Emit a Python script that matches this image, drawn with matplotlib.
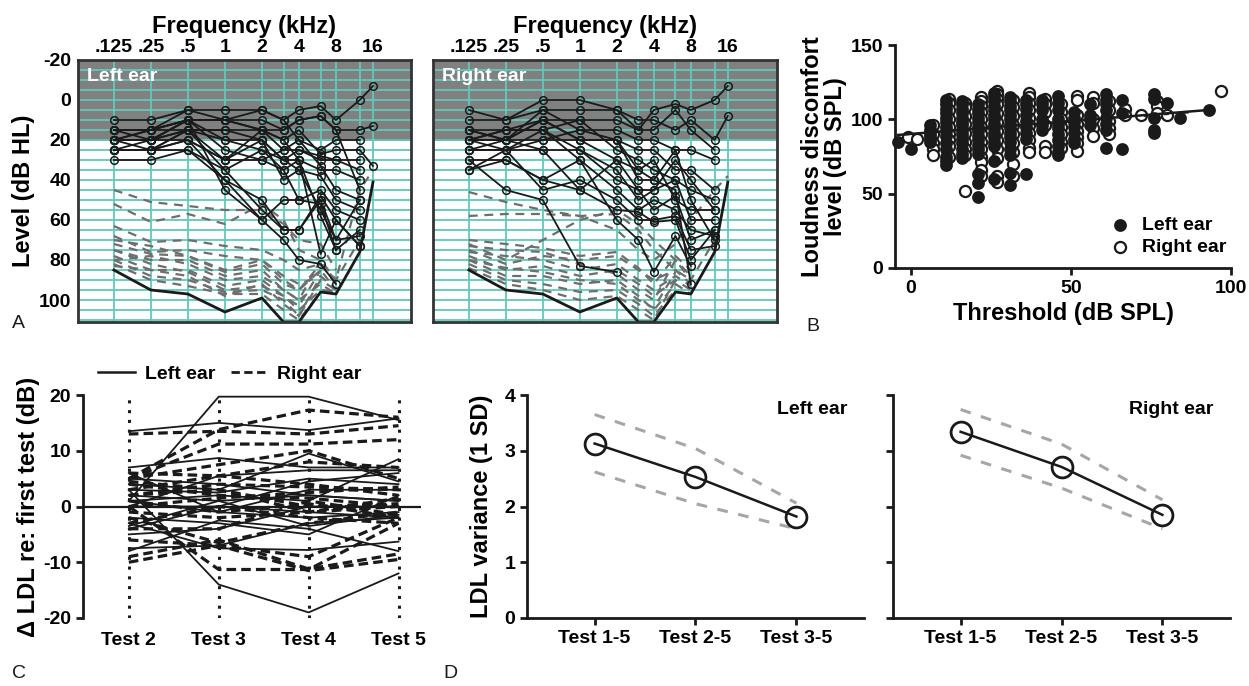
import numpy as np
import matplotlib
matplotlib.use("Agg")
import matplotlib.pyplot as plt
from matplotlib.lines import Line2D

plt.rcParams['font.family'] = ['Liberation Sans', 'DejaVu Sans']
plt.rcParams['font.weight'] = 'bold'
plt.rcParams['axes.labelweight'] = 'bold'
plt.rcParams['axes.unicode_minus'] = False

# ---------------- DATA ----------------
freqs_khz = [0.125, 0.25, 0.5, 1, 2, 3, 4, 6, 8, 12.5, 16]
freq_ticks = [0.125, 0.25, 0.5, 1, 2, 4, 8, 16]
freq_ticklabels = ['.125', '.25', '.5', '1', '2', '4', '8', '16']
level_ticks = [-20, 0, 20, 40, 60, 80, 100]

# maximum output of equipment (dB HL)
max_output = [85, 95, 97, 106, 99, 111, 111, 96, 97, 76, 41]

nan = np.nan
left_thresholds = [
    [10, 10, 5, 5, 5, 10, 5, 3, 10, 0, -7],
    [15, 15, 10, 10, 10, 15, 10, 8, 15, 15, 13],
    [20, 15, 10, 10, 15, 20, 15, 27, 25, 25, 33],
    [20, 20, 15, 15, 15, 25, 25, 30, 30, 30],
    [25, 25, 15, 20, 20, 30, 30, 35, 35, 40],
    [15, 15, 5, 10, 5, 10, 20, 25, 20, 20],
    [20, 20, 10, 25, 30, 25, 20, 33, 45, 50],
    [25, 25, 20, 30, 20, 30, 35, 38, 50, 55],
    [30, 30, 25, 35, 25, 35, 50, 45, 55, 60],
    [20, 20, 20, 40, 50, 65, 65, 50, 70, 68],
    [15, 20, 10, 45, 60, 70, 80, 82, 92],
    [25, 25, 15, 35, 55, 65, 65, 48, 60, 73],
    [20, 25, 25, 40, 60, 50, 50, 52, 75],
    [15, 15, 15, 30, 15, 15, 10, 8, 15, 45],
    [25, 20, 10, 20, 25, 30, 25, 28, 30, 35],
    [20, 20, 15, 15, 20, 40, 35, 55, 70, 50],
    [25, 25, 20, 30, 30, 35, 30, 58, 75, 65],
    [20, 15, 10, 10, 15, 20, 30, 77, 60, 73],
]
left_ldl_lines = [
    [45, 51, 53, 55, 55, 62, 70, 72, 85],
    [52, 61, 57, 62, 52, 60, 75, 80, 90, 70],
    [63, 71, 70, 73, 75, 80, 85, 82, 92],
    [68, 76, 75, 78, 80, 88, 92, 88, 95],
    [72, 77, 78, 86, 82, 92, 95, 85, 95],
    [75, 80, 80, 88, 85, 95, 100, 92, 97],
    [78, 85, 85, 93, 90, 98, 105, 95, 96],
    [80, 88, 90, 96, 95, 100, 108, 90, 95],
    [82, 90, 93, 97, 97, 105, 110, 96],
    [83, 85, 88, 98, 92, 102, 108, 88],
    [80, 78, 82, 90, 88, 95, 100, 80],
    [75, 82, 86, 95, 93, 98, 103, 85],
    [70, 73, 78, 85, 80, 90, 95, 82, 90, 45, 35],
]
right_thresholds = [
    [5, 10, 5, 5, 5, 15, 5, 2, 5, 0, -7],
    [10, 10, 0, 0, 5, 10, 10, 15, 10, 20, 8],
    [15, 15, 10, 10, 10, 15, 15, 5, 15, 25],
    [15, 20, 5, 15, 15, 20, 20, 25, 25, 30],
    [20, 20, 10, 20, 20, 25, 25, 35, 35, 45],
    [20, 15, 15, 10, 25, 30, 35, 40, 45, 50],
    [25, 25, 20, 20, 30, 35, 30, 50, 55, 55],
    [25, 20, 25, 25, 40, 45, 45, 40, 60, 60],
    [30, 30, 40, 30, 45, 55, 50, 55, 65, 68],
    [35, 25, 45, 40, 50, 60, 60, 58, 75, 73],
    [20, 25, 15, 30, 60, 70, 86, 68, 83],
    [30, 45, 50, 83, 86],
    [20, 15, 15, 25, 35, 50, 45, 30, 40, 55],
    [15, 20, 20, 15, 20, 40, 40, 45, 92],
    [25, 25, 25, 45, 30, 45, 55, 48, 70, 65],
    [20, 20, 10, 20, 20, 35, 40, 25, 50, 70],
    [35, 30, 40, 45, 55, 56, 61, 60, 80, 65],
]
right_ldl_lines = [
    [46, 51, 55, 58, 65, 75, 80, 72, 60, 45, 38],
    [58, 57, 57, 58, 57, 65, 75, 85, 90],
    [72, 80, 70, 60, 55, 62, 70, 80, 88],
    [75, 82, 78, 80, 78, 85, 90, 85, 92],
    [78, 85, 83, 88, 85, 92, 98, 90, 95],
    [80, 88, 88, 92, 90, 98, 105, 92, 97],
    [82, 90, 92, 96, 95, 102, 108, 95],
    [76, 78, 80, 85, 82, 90, 95, 88, 93],
    [84, 92, 95, 100, 98, 105, 110, 90],
    [73, 75, 76, 82, 87, 95, 100, 80, 90, 70],
    [80, 84, 86, 90, 92, 100, 104, 86],
    [70, 72, 74, 78, 76, 84, 92, 78, 85],
]

# Panel B: threshold (dB SPL) columns and LDL values (dB SPL)
left_scatter = [
    (-4, [85]), (0, [80]),
    (6, [96, 93, 91, 89, 87, 85]),
    (11, [113, 110, 107, 104, 101, 98, 95, 92, 89, 84, 80, 75, 72, 69]),
    (16, [112, 110, 107, 104, 101, 98, 96, 93, 90, 87, 84, 80, 77, 74]),
    (21, [110, 107, 104, 101, 98, 95, 92, 89, 86, 83, 80, 77, 63, 57, 48]),
    (26, [118, 115, 112, 109, 106, 103, 100, 97, 94, 91, 88, 85, 82, 72, 60]),
    (31, [115, 112, 109, 106, 103, 100, 97, 94, 91, 88, 85, 80, 76, 64, 56]),
    (36, [113, 110, 107, 103, 99, 95, 91, 87, 63]),
    (41, [113, 110, 106, 100, 96, 93]),
    (46, [116, 111, 106, 100, 97, 94, 90, 86, 82, 78, 76]),
    (51, [105, 101, 98, 95, 91, 87, 84]),
    (56, [110, 103, 100, 96]),
    (61, [117, 113, 110, 106, 101, 97, 93, 81]),
    (66, [113, 104, 80]),
    (76, [117, 114, 101, 93, 91]),
    (80, [111]), (84, [101]), (93, [106]),
]
right_scatter = [
    (-1, [88]), (2, [87]),
    (7, [96, 90, 84, 80, 76]),
    (12, [114, 111, 106, 100, 95, 90, 86, 82, 75]),
    (17, [111, 108, 102, 97, 91, 85, 80, 76, 52]),
    (22, [115, 112, 109, 105, 100, 95, 90, 85, 80, 75, 71, 66, 62]),
    (27, [119, 117, 114, 110, 104, 98, 92, 86, 80, 74, 62, 58]),
    (32, [113, 108, 102, 96, 90, 84, 78, 70, 62]),
    (37, [118, 115, 111, 106, 101, 96, 91, 86, 81, 78]),
    (42, [114, 110, 105, 96, 82, 78]),
    (47, [110, 105, 100, 95, 90, 85, 81]),
    (52, [116, 113, 103, 97, 92, 88, 84, 79]),
    (57, [115, 111, 100, 94, 89]),
    (62, [112, 106, 99, 94, 90]),
    (67, [107, 103]), (72, [103]),
    (77, [112, 109, 104]), (80, [103]), (97, [119]),
]
fit_left_x, fit_left_y = [-4, 93], [89.5, 106.3]
fit_right_x, fit_right_y = [-2, 97], [90.0, 106.5]

# Panel C: change in LDL re first test
tests_c = ['Test 2', 'Test 3', 'Test 4', 'Test 5']
c_left = [
    [13.5, 15, 13.7, 15.8], [1, 19.7, 19.7, 15.5], [3, -14, -19, -12],
    [7, 8.7, 7, 7], [4, 3, 9.5, 4.5], [-3, -7.5, -7.8, -6.3],
    [-8, -2.5, -4, -8], [1, 2, 1, 8.5], [0, 5.5, 6.5, 6.5],
    [-4, 0, 4.5, 6], [2, 1, 2, 1], [-5, -4, 0, 0], [6, -1, -2, -1],
    [-2, -3, -5, 2], [3, 2.5, 5, 4], [0, 0, -1, -2], [5, 4, 2, 1],
    [-7.5, -7, -3, -2], [1, -1, 3, 3], [-3.5, 1, -3.5, -1.5],
]
c_right = [
    [13, 13.5, 13, 14.5], [5, 13.8, 17.3, 16], [5, 11.2, 11.2, 12],
    [-10, -7, -11.5, -9.5], [-9, -6, -11.2, -8.5], [0, -11.3, -11.3, -3],
    [5, 7.5, 10, 5], [3, 5.5, 8, 7], [-6, -7, -9, -2], [2, 4, 3.5, 3],
    [-1, -2, -1, 1.5], [4, 2, 1.5, 0], [-2, -6.5, -3, -1], [6, 5.5, 4, 2],
    [0, 1.5, 2.5, 3.5], [-3, 0, -2, -3], [1, -1, 0.5, -2], [4.5, 3, 0, 0.5],
    [-4, -4, 1, -1.5], [2, 3, -1, 0],
]

# Panel D: LDL variance
tests_d = ['Test 1-5', 'Test 2-5', 'Test 3-5']
d_left_mean = [3.13, 2.53, 1.82]
d_left_upper = [3.65, 3.04, 2.06]
d_left_lower = [2.62, 2.05, 1.60]
d_right_mean = [3.34, 2.71, 1.85]
d_right_upper = [3.74, 3.12, 2.12]
d_right_lower = [2.92, 2.33, 1.60]

# ---------------- FIGURE ----------------
W, H = 1249, 686
fig = plt.figure(figsize=(W / 100, H / 100), dpi=100)


def px_axes(x0, y0, x1, y1):
    return fig.add_axes([x0 / W, 1 - y1 / H, (x1 - x0) / W, (y1 - y0) / H])


TEAL = '#62c9b8'
LBL = 17
TCK = 14


def pad(row):
    r = list(row) + [nan] * (len(freqs_khz) - len(row))
    return np.array(r, dtype=float)


def audiogram(ax, thr, ldl, title, xmax, show_y):
    ax.set_xscale('log', base=2)
    ax.set_xlim(0.0639, xmax)
    ax.set_ylim(111, -20)
    ax.axhspan(-25, 20.6, color='#808080', zorder=0, lw=0)
    for lv in range(-20, 111, 5):
        ax.axhline(lv, color=TEAL, lw=1.3, zorder=1)
    for f in freqs_khz:
        ax.axvline(f, color=TEAL, lw=1.3, zorder=1)
    for row in ldl:
        ax.plot(freqs_khz, pad(row), color='#6e6e6e', lw=1.6,
                dashes=(4, 3), zorder=2)
    ax.plot(freqs_khz, max_output, color='#1a1a1a', lw=2.0, zorder=3)
    for row in thr:
        ax.plot(freqs_khz, pad(row), color='#1a1a1a', lw=1.3, marker='o',
                ms=5.5, mfc='none', mec='#1a1a1a', mew=1.1, zorder=4)
    ax.xaxis.tick_top()
    ax.xaxis.set_label_position('top')
    ax.set_xticks(freq_ticks)
    ax.set_xticklabels(freq_ticklabels)
    ax.xaxis.set_minor_locator(matplotlib.ticker.NullLocator())
    ax.tick_params(axis='x', length=0, labelsize=TCK, pad=3)
    ax.set_xlabel('Frequency (kHz)', fontsize=LBL, labelpad=4)
    ax.set_yticks(level_ticks)
    ax.tick_params(axis='y', length=0, labelsize=TCK, pad=5)
    if show_y:
        ax.set_ylabel('Level (dB HL)', fontsize=LBL, labelpad=3)
    else:
        ax.set_yticklabels([])
    for s in ax.spines.values():
        s.set_color('#333333')
        s.set_linewidth(2)
        s.set_zorder(6)
    ax.text(0.027, 0.937, title, transform=ax.transAxes, color='white',
            fontsize=TCK, fontweight='bold', ha='left', va='center', zorder=7)


axA1 = px_axes(78, 60, 411, 322)
audiogram(axA1, left_thresholds, left_ldl_lines, 'Left ear', 32.6, True)
axA2 = px_axes(433, 60, 777, 322)
audiogram(axA2, right_thresholds, right_ldl_lines, 'Right ear', 40.2, False)


def style_spines(ax):
    for s in ['top', 'right']:
        ax.spines[s].set_visible(False)
    for s in ['left', 'bottom']:
        ax.spines[s].set_linewidth(2)
        ax.spines[s].set_color('#1a1a1a')
    ax.tick_params(width=2, length=5, labelsize=TCK, color='#1a1a1a')


# ---- Panel B ----
axB = px_axes(895, 45, 1231, 268)
lx = [x for x, ys in left_scatter for _ in ys]
ly = [y for _, ys in left_scatter for y in ys]
rx = [x for x, ys in right_scatter for _ in ys]
ry = [y for _, ys in right_scatter for y in ys]
axB.scatter(lx, ly, s=64, c='#1a1a1a', edgecolors='#1a1a1a', lw=1.2,
            label='Left ear', zorder=3, clip_on=False)
axB.scatter(rx, ry, s=64, facecolors='white', edgecolors='#1a1a1a', lw=1.6,
            label='Right ear', zorder=2, clip_on=False)
axB.plot(fit_left_x, fit_left_y, color='#1a1a1a', lw=1.8, zorder=4)
axB.plot(fit_right_x, fit_right_y, color='#1a1a1a', lw=1.8, ls=(0, (2, 6)),
         zorder=4)
axB.set_xlim(-5, 100)
axB.set_ylim(0, 150)
axB.set_xticks([0, 50, 100])
axB.set_yticks([0, 50, 100, 150])
style_spines(axB)
axB.set_xlabel('Threshold (dB SPL)', fontsize=LBL, labelpad=4)
axB.set_ylabel('Loudness discomfort\nlevel (dB SPL)', fontsize=LBL,
               labelpad=3, linespacing=1.0)
leg = axB.legend(loc='lower right', bbox_to_anchor=(1.02, 0.0), frameon=False,
                 fontsize=TCK, handletextpad=0.1, borderaxespad=0.2,
                 labelspacing=0.25, markerscale=1.0)

# ---- Panel C ----
axC = px_axes(83, 395, 421, 618)
xc = np.arange(len(tests_c))
for row in c_left:
    axC.plot(xc, row, color='#1a1a1a', lw=1.3, zorder=3)
for row in c_right:
    axC.plot(xc, row, color='#1a1a1a', lw=2.3, dashes=(3.0, 1.6), zorder=3)
axC.vlines(xc, -20, 20, colors='#1a1a1a', linestyles=(0, (1, 2.2)), lw=2.2,
           zorder=2)
axC.axhline(0, color='#1a1a1a', lw=1.6, zorder=4)
axC.set_xlim(-0.51, 3.25)
axC.set_ylim(-20, 20)
axC.set_yticks([-20, -10, 0, 10, 20])
axC.set_xticks(xc)
axC.set_xticklabels(tests_c)
style_spines(axC)
axC.spines['bottom'].set_visible(False)
axC.tick_params(axis='x', length=0, pad=10)
axC.set_ylabel('\u0394 LDL re: first test (dB)', fontsize=LBL, labelpad=2)
handles = [Line2D([], [], color='#1a1a1a', lw=1.8),
           Line2D([], [], color='#1a1a1a', lw=2.0, dashes=(3.0, 1.6))]
axC.legend(handles, ['Left ear', 'Right ear'], loc='lower center',
           bbox_to_anchor=(0.435, 1.02), ncol=2, frameon=False, fontsize=TCK,
           handlelength=1.9, handletextpad=0.5, columnspacing=0.8,
           borderaxespad=0)

# ---- Panel D ----
def variance_panel(ax, mean, upper, lower, title, show_y):
    xd = np.arange(len(tests_d))
    ax.plot(xd, upper, color='#a6a6a6', lw=2.2, dashes=(3.5, 3.5), zorder=2)
    ax.plot(xd, lower, color='#a6a6a6', lw=2.2, dashes=(3.5, 3.5), zorder=2)
    ax.plot(xd, mean, color='#1a1a1a', lw=1.8, marker='o', ms=15,
            mfc='none', mec='#1a1a1a', mew=2.0, zorder=3)
    ax.set_xlim(-0.67, 2.67)
    ax.set_ylim(0, 4)
    ax.set_yticks([0, 1, 2, 3, 4])
    ax.set_xticks(xd)
    ax.set_xticklabels(tests_d)
    style_spines(ax)
    if show_y:
        ax.set_ylabel('LDL variance (1 SD)', fontsize=LBL, labelpad=8)
    else:
        ax.set_yticklabels([])
    ax.text(0.95, 0.935, title, transform=ax.transAxes, ha='right',
            va='center', fontsize=TCK, fontweight='bold')


axD1 = px_axes(527, 395, 864, 618)
variance_panel(axD1, d_left_mean, d_left_upper, d_left_lower, 'Left ear', True)
axD2 = px_axes(893, 395, 1230, 618)
variance_panel(axD2, d_right_mean, d_right_upper, d_right_lower, 'Right ear',
               False)

# panel letters
for letter, (px, py) in {'A': (12, 324), 'B': (806, 326), 'C': (12, 673),
                         'D': (443, 674)}.items():
    fig.text(px / W, 1 - py / H, letter, fontsize=14, fontweight='normal',
             ha='left', va='center', color='#1a1a1a')

fig.savefig('out.png', dpi=100)
